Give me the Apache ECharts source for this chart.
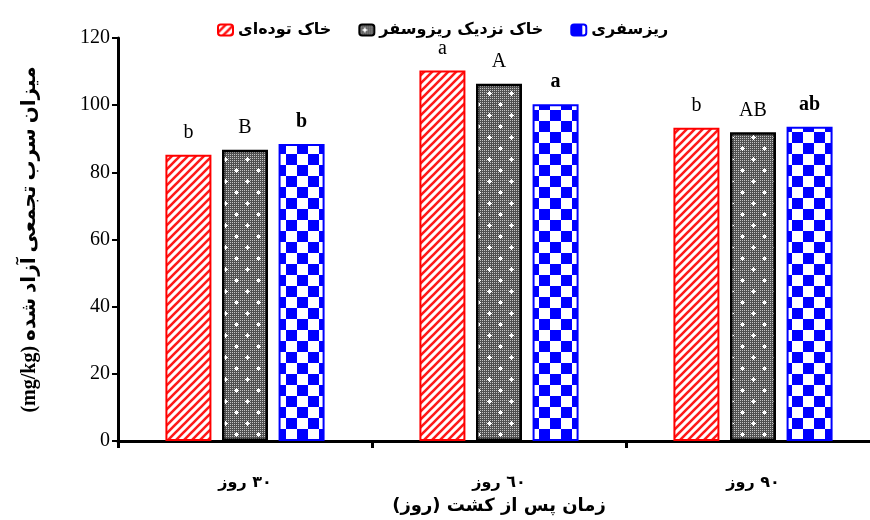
<!DOCTYPE html>
<html>
<head>
<meta charset="utf-8">
<script src="https://cdn.jsdelivr.net/npm/echarts@6.0.0/dist/echarts.min.js"></script>
<style>html,body{margin:0;padding:0;background:#fff;}#c{width:870px;height:520px;}</style>
</head>
<body>
<div id="c"></div>
<script>
// ---- data ----
const categories = ['\u200F۳۰ روز', '\u200F٦٠ روز', '\u200F۹۰ روز'];
const seriesNames = ['خاک توده\u200Cای', 'خاک نزدیک ریزوسفر', 'ریزسفری'];
const bulkSoil = [85.2, 110.3, 93.3];
const nearRhizosphere = [86.7, 106.4, 91.9];
const rhizosphere = [88.4, 100.3, 93.6];
const bulkLetters = ['b', 'a', 'b'];
const nearLetters = ['B', 'A', 'AB'];
const rhizoLetters = ['b', 'a', 'ab'];
const yTicks = [0, 20, 40, 60, 80, 100, 120];
const xTitle = '\u200Fزمان پس از کشت (روز)\u200F';
const yTitle = '(mg/kg) میزان سرب تجمعی آزاد شده';

// ---- patterns ----
function stripePattern() {
  const s = 8, c = document.createElement('canvas');
  c.width = s; c.height = s;
  const g = c.getContext('2d');
  g.fillStyle = '#fff'; g.fillRect(0, 0, s, s);
  g.strokeStyle = '#ff1a1a'; g.lineWidth = 2.6;
  g.beginPath();
  g.moveTo(-2, s + 2); g.lineTo(s + 2, -2);
  g.moveTo(-2, 2); g.lineTo(2, -2);
  g.moveTo(s - 2, s + 2); g.lineTo(s + 2, s - 2);
  g.stroke();
  return c;
}
function dotPattern() {
  const s = 22, c = document.createElement('canvas');
  c.width = s; c.height = s;
  const g = c.getContext('2d');
  g.fillStyle = '#505050'; g.fillRect(0, 0, s, s);
  g.fillStyle = '#c4c4c4';
  for (let x = 0; x < s; x += 2) for (let y = 0; y < s; y += 2) g.fillRect(x, y, 1, 1);
  g.fillStyle = '#ffffff';
  [[5, 5], [16, 16]].forEach(([x, y]) => {
    g.fillRect(x - 2, y, 5, 1); g.fillRect(x, y - 2, 1, 5); g.fillRect(x - 1, y - 1, 3, 3);
  });
  return c;
}
function checkPattern() {
  const s = 22, h = 11, c = document.createElement('canvas');
  c.width = s; c.height = s;
  const g = c.getContext('2d');
  g.fillStyle = '#fff'; g.fillRect(0, 0, s, s);
  g.fillStyle = '#0000ff';
  g.fillRect(0, 0, h, h); g.fillRect(h, h, h, h);
  return c;
}

const persianFont = '"DejaVu Sans", "Noto Sans", sans-serif';
const serifFont = '"Liberation Serif", "Times New Roman", serif';

function mkSeries(name, data, letters, pattern, border, bw, bold) {
  return {
    name: name, type: 'bar', data: data,
    barWidth: 46, barGap: '23%',
    itemStyle: { color: { image: pattern, repeat: 'repeat' }, borderColor: border, borderWidth: bw },
    label: {
      show: true, position: 'top', distance: 12,
      formatter: p => letters[p.dataIndex],
      fontFamily: serifFont, fontSize: 20, color: '#000',
      fontWeight: bold ? 'bold' : 'normal'
    }
  };
}

const chart = echarts.init(document.getElementById('c'), null, { renderer: 'canvas' });
chart.setOption({
  animation: false,
  backgroundColor: '#fff',
  legend: {
    left: 212, top: 17,
    itemWidth: 15, itemHeight: 11, itemGap: 27,
    textStyle: { fontFamily: persianFont, fontSize: 16, fontWeight: 'bold', color: '#000' },
    data: seriesNames
  },
  grid: { left: 118, top: 38, width: 762, height: 403, containLabel: false, outerBoundsMode: 'none' },
  xAxis: {
    type: 'category', data: categories,
    axisLine: { lineStyle: { color: '#000', width: 3 } },
    axisTick: { show: true, length: 7, lineStyle: { color: '#000', width: 3 } },
    axisLabel: { margin: 34, fontFamily: persianFont, fontSize: 16, fontWeight: 'bold', color: '#000' },
    name: xTitle, nameLocation: 'middle', nameGap: 56,
    nameTextStyle: { fontFamily: persianFont, fontSize: 18, fontWeight: 'bold', color: '#000' }
  },
  yAxis: {
    type: 'value', min: yTicks[0], max: yTicks[yTicks.length - 1], interval: 20,
    splitLine: { show: false },
    axisLine: { show: true, lineStyle: { color: '#000', width: 3 } },
    axisTick: { show: true, length: 6, lineStyle: { color: '#000', width: 2 } },
    axisLabel: { margin: 8, fontFamily: serifFont, fontSize: 20, color: '#000' },
    name: yTitle, nameLocation: 'middle', nameRotate: 90, nameGap: 78,
    nameTextStyle: { fontFamily: serifFont + ', ' + persianFont, fontSize: 20, fontWeight: 'bold', color: '#000' }
  },
  series: [
    mkSeries(seriesNames[0], bulkSoil, bulkLetters, stripePattern(), '#ff0000', 2, false),
    mkSeries(seriesNames[1], nearRhizosphere, nearLetters, dotPattern(), '#000000', 2.5, false),
    mkSeries(seriesNames[2], rhizosphere, rhizoLetters, checkPattern(), '#0000ff', 2, true)
  ]
});
</script>
</body>
</html>
